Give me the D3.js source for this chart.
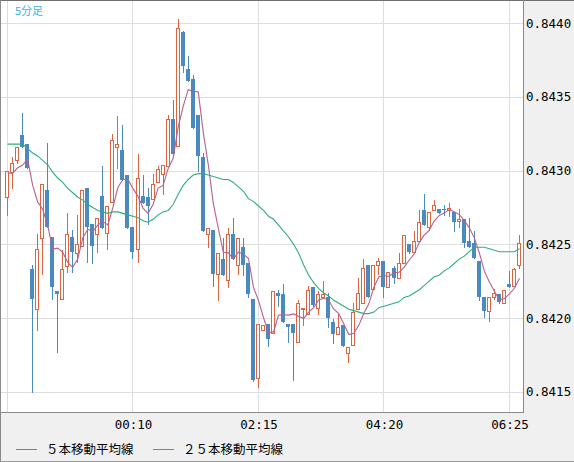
<!DOCTYPE html>
<html>
<head>
<meta charset="utf-8">
<script src="https://cdn.jsdelivr.net/npm/d3@7"></script>
<style>
  body { margin: 0; background: #f0f0f0; }
  svg { display: block; }
</style>
</head>
<body>
<div id="chart"></div>
<script>
// Canvas and plot box (the white area with the candles)
const WIDTH = 574,
      HEIGHT = 462;
const plot = { left: 1, top: 1, right: 523, bottom: 412 };

// 5 minute bars, first bar at 22:05
const startTime = "22:05";
const barMinutes = 5;
const tickLabels = ["00:10", "02:15", "04:20", "06:25"];
const priceTicks = [0.8415, 0.8420, 0.8425, 0.8430, 0.8435, 0.8440];

const open = [
  0.84282, 0.84299, 0.84307, 0.84324, 0.84318, 0.84233, 0.84206, 0.84254, 0.84287, 0.84255,
  0.84218, 0.84213, 0.84235, 0.84255, 0.84244, 0.84249, 0.84288, 0.84264, 0.84257, 0.84283,
  0.84258, 0.84279, 0.84316, 0.84314, 0.84297, 0.84262, 0.84247, 0.84283, 0.84282, 0.84281,
  0.84292, 0.84298, 0.84303, 0.84335, 0.84317, 0.84394, 0.84369, 0.84362, 0.84338, 0.84309,
  0.84257, 0.84260, 0.84230, 0.84240, 0.84226, 0.84257, 0.84236, 0.84248, 0.84237, 0.84213,
  0.84159, 0.84192, 0.84196, 0.84190, 0.84217, 0.84216, 0.84196, 0.84196, 0.84184, 0.84206,
  0.84203, 0.84221, 0.84207, 0.84214, 0.84214, 0.84197, 0.84189, 0.84195, 0.84176, 0.84182,
  0.84206, 0.84210, 0.84236, 0.84220, 0.84236, 0.84239, 0.84221, 0.84234, 0.84227, 0.84237,
  0.84250, 0.84245, 0.84252, 0.84273, 0.84262, 0.84273, 0.84274, 0.84274, 0.84273, 0.84272,
  0.84266, 0.84267, 0.84252, 0.84251, 0.84239, 0.84214, 0.84205, 0.84214, 0.84216, 0.84210,
  0.84223, 0.84222, 0.84236
];
const high = [
  0.84300, 0.84309, 0.84316, 0.84339, 0.84318, 0.84236, 0.84257, 0.84291, 0.84319, 0.84255,
  0.84218, 0.84246, 0.84271, 0.84260, 0.84270, 0.84287, 0.84288, 0.84264, 0.84268, 0.84303,
  0.84276, 0.84325, 0.84337, 0.84331, 0.84297, 0.84262, 0.84311, 0.84297, 0.84288, 0.84298,
  0.84303, 0.84304, 0.84338, 0.84348, 0.84403, 0.84395, 0.84378, 0.84365, 0.84338, 0.84312,
  0.84261, 0.84260, 0.84244, 0.84254, 0.84261, 0.84268, 0.84254, 0.84254, 0.84237, 0.84213,
  0.84196, 0.84195, 0.84196, 0.84218, 0.84219, 0.84223, 0.84196, 0.84196, 0.84212, 0.84207,
  0.84222, 0.84221, 0.84218, 0.84225, 0.84217, 0.84199, 0.84203, 0.84195, 0.84180, 0.84210,
  0.84227, 0.84240, 0.84236, 0.84236, 0.84241, 0.84239, 0.84231, 0.84235, 0.84244, 0.84256,
  0.84250, 0.84259, 0.84273, 0.84284, 0.84272, 0.84280, 0.84274, 0.84277, 0.84278, 0.84272,
  0.84274, 0.84267, 0.84268, 0.84259, 0.84239, 0.84214, 0.84214, 0.84220, 0.84216, 0.84219,
  0.84232, 0.84234, 0.84256
];
const low = [
  0.84270, 0.84288, 0.84305, 0.84316, 0.84302, 0.84150, 0.84192, 0.84230, 0.84262, 0.84213,
  0.84177, 0.84213, 0.84231, 0.84231, 0.84238, 0.84249, 0.84238, 0.84237, 0.84245, 0.84261,
  0.84247, 0.84279, 0.84302, 0.84294, 0.84261, 0.84241, 0.84238, 0.84278, 0.84264, 0.84281,
  0.84292, 0.84284, 0.84303, 0.84311, 0.84317, 0.84367, 0.84361, 0.84329, 0.84300, 0.84259,
  0.84248, 0.84222, 0.84212, 0.84229, 0.84221, 0.84240, 0.84230, 0.84229, 0.84214, 0.84157,
  0.84153, 0.84192, 0.84181, 0.84190, 0.84208, 0.84197, 0.84184, 0.84158, 0.84184, 0.84195,
  0.84203, 0.84208, 0.84203, 0.84214, 0.84194, 0.84183, 0.84189, 0.84181, 0.84170, 0.84182,
  0.84206, 0.84210, 0.84214, 0.84220, 0.84230, 0.84214, 0.84221, 0.84224, 0.84227, 0.84237,
  0.84244, 0.84245, 0.84252, 0.84263, 0.84260, 0.84273, 0.84271, 0.84270, 0.84269, 0.84259,
  0.84262, 0.84248, 0.84248, 0.84241, 0.84212, 0.84201, 0.84198, 0.84213, 0.84210, 0.84210,
  0.84221, 0.84222, 0.84234
];
const close = [
  0.84300, 0.84305, 0.84316, 0.84316, 0.84302, 0.84213, 0.84247, 0.84291, 0.84262, 0.84221,
  0.84216, 0.84233, 0.84257, 0.84245, 0.84250, 0.84287, 0.84262, 0.84249, 0.84268, 0.84261,
  0.84276, 0.84321, 0.84318, 0.84294, 0.84261, 0.84245, 0.84295, 0.84278, 0.84276, 0.84291,
  0.84301, 0.84304, 0.84335, 0.84311, 0.84397, 0.84371, 0.84361, 0.84329, 0.84310, 0.84259,
  0.84261, 0.84230, 0.84244, 0.84229, 0.84257, 0.84240, 0.84254, 0.84236, 0.84216, 0.84158,
  0.84196, 0.84195, 0.84186, 0.84218, 0.84215, 0.84197, 0.84194, 0.84190, 0.84210, 0.84207,
  0.84219, 0.84209, 0.84216, 0.84216, 0.84200, 0.84189, 0.84194, 0.84181, 0.84180, 0.84204,
  0.84217, 0.84234, 0.84214, 0.84236, 0.84239, 0.84221, 0.84231, 0.84227, 0.84237, 0.84256,
  0.84245, 0.84252, 0.84265, 0.84263, 0.84272, 0.84277, 0.84271, 0.84273, 0.84275, 0.84265,
  0.84267, 0.84251, 0.84248, 0.84241, 0.84214, 0.84205, 0.84214, 0.84217, 0.84211, 0.84219,
  0.84221, 0.84233, 0.84251
];

// closes of the 4 bars before the window (read back from where the 5 bar MA starts)
const leadCloses = [0.84305, 0.84298, 0.84306, 0.84282];

// 25 bar moving average
const ma25 = [
  0.84318, 0.84318, 0.84318, 0.84318, 0.84315, 0.84312, 0.84310, 0.84307, 0.84304, 0.84299,
  0.84295, 0.84292, 0.84288, 0.84285, 0.84282, 0.84280, 0.84277, 0.84275, 0.84273, 0.84272,
  0.84271, 0.84272, 0.84272, 0.84271, 0.84270, 0.84269, 0.84268, 0.84266, 0.84265, 0.84267,
  0.84270, 0.84272, 0.84273, 0.84277, 0.84284, 0.84290, 0.84294, 0.84297, 0.84298, 0.84298,
  0.84297, 0.84296, 0.84295, 0.84294, 0.84294, 0.84292, 0.84289, 0.84286, 0.84281, 0.84279,
  0.84276, 0.84273, 0.84269, 0.84267, 0.84263, 0.84259, 0.84255, 0.84250, 0.84244, 0.84236,
  0.84229, 0.84224, 0.84220, 0.84217, 0.84215, 0.84212, 0.84210, 0.84208, 0.84206, 0.84205,
  0.84204, 0.84203, 0.84203, 0.84204, 0.84207, 0.84208, 0.84209, 0.84210, 0.84211, 0.84214,
  0.84215, 0.84217, 0.84219, 0.84222, 0.84225, 0.84228, 0.84229, 0.84232, 0.84234, 0.84237,
  0.84240, 0.84242, 0.84245, 0.84248, 0.84248, 0.84248, 0.84247, 0.84246, 0.84245, 0.84245,
  0.84245, 0.84245, 0.84247
];

const UP = "#dd6440",
      DOWN = "#4a8ac0",
      MA5_COLOR = "#b4618f",
      MA25_COLOR = "#2fae78",
      GRID = "#dedede";
const MONO = "'DejaVu Sans Mono', monospace",
      JP = "'Noto Sans CJK JP', sans-serif";

// Bar times
const fmt = d3.utcFormat("%H:%M");
const t0 = d3.utcParse("%H:%M")(startTime);
const times = close.map((_, i) => d3.utcMinute.offset(t0, barMinutes * i));
const gridTimes = times.filter((t, i) => i % 25 === 0);
const labelTimes = times.filter(t => tickLabels.includes(fmt(t)));

// 5 bar simple moving average from the closes
const allCloses = leadCloses.concat(close);
const ma5 = close.map((_, i) => d3.mean(allCloses.slice(i, i + 5)));

let x = d3.scaleUtc()
    .domain([times[0], times[times.length - 1]])
    .range([7.5, 519.5]);

let y = d3.scaleLinear()
    .domain([0.8415, 0.8440])
    .range([391.7, 23.3]);

let svg = d3
    .select("#chart")
    .append("svg")
    .attr("width", WIDTH)
    .attr("height", HEIGHT);

svg.append("rect")
    .attr("width", WIDTH)
    .attr("height", HEIGHT)
    .attr("fill", "#f0f0f0");

svg.append("rect")
    .attr("x", plot.left)
    .attr("y", plot.top)
    .attr("width", plot.right - plot.left)
    .attr("height", plot.bottom - plot.top)
    .attr("fill", "#fff");

// Grid
let grid = svg.append("g")
    .attr("stroke", GRID)
    .attr("stroke-width", 1)
    .attr("shape-rendering", "crispEdges");

grid.selectAll("line.h")
    .data(priceTicks)
    .enter()
    .append("line")
    .attr("class", "h")
    .attr("x1", plot.left)
    .attr("x2", plot.right)
    .attr("y1", d => Math.round(y(d)) + 0.5)
    .attr("y2", d => Math.round(y(d)) + 0.5);

grid.selectAll("line.v")
    .data(gridTimes)
    .enter()
    .append("line")
    .attr("class", "v")
    .attr("x1", d => Math.floor(x(d)) + 0.5)
    .attr("x2", d => Math.floor(x(d)) + 0.5)
    .attr("y1", plot.top)
    .attr("y2", plot.bottom);

// Candles
const bars = close.map((c, i) => ({ t: times[i], o: open[i], h: high[i], l: low[i], c: c }));

let candles = svg.append("g")
    .attr("shape-rendering", "crispEdges")
    .selectAll("g")
    .data(bars)
    .enter()
    .append("g");

candles.append("line")
    .attr("x1", d => Math.floor(x(d.t)) + 0.5)
    .attr("x2", d => Math.floor(x(d.t)) + 0.5)
    .attr("y1", d => Math.round(y(d.h)))
    .attr("y2", d => Math.round(y(d.l)) + 1)
    .attr("stroke", d => d.c >= d.o ? UP : DOWN)
    .attr("stroke-width", 1);

// bullish: hollow, bearish: filled
candles.filter(d => d.c >= d.o)
    .append("rect")
    .attr("x", d => Math.floor(x(d.t)) - 1.5)
    .attr("width", 3)
    .attr("y", d => Math.round(y(d.c)) + 0.5)
    .attr("height", d => Math.max(1, Math.round(y(d.o)) - Math.round(y(d.c))))
    .attr("fill", "#fff")
    .attr("stroke", UP)
    .attr("stroke-width", 1);

candles.filter(d => d.c < d.o)
    .append("rect")
    .attr("x", d => Math.floor(x(d.t)) - 2)
    .attr("width", 4)
    .attr("y", d => Math.round(y(d.o)))
    .attr("height", d => Math.max(1, Math.round(y(d.c)) - Math.round(y(d.o))))
    .attr("fill", DOWN);

// Moving averages
const maLine = d3.line()
    .x((d, i) => x(times[i]))
    .y(d => y(d));

svg.append("path")
    .attr("d", maLine(ma25))
    .attr("fill", "none")
    .attr("stroke", MA25_COLOR)
    .attr("stroke-width", 1.1);

svg.append("path")
    .attr("d", maLine(ma5))
    .attr("fill", "none")
    .attr("stroke", MA5_COLOR)
    .attr("stroke-width", 1.1);

// Borders
let borders = svg.append("g").attr("shape-rendering", "crispEdges");
borders.append("line")
    .attr("x1", 0).attr("x2", WIDTH).attr("y1", 0.5).attr("y2", 0.5)
    .attr("stroke", "#707070");
borders.append("line")
    .attr("x1", 0.5).attr("x2", 0.5).attr("y1", 0).attr("y2", HEIGHT)
    .attr("stroke", "#8a8a8a");
borders.append("line")
    .attr("x1", plot.right + 0.5).attr("x2", plot.right + 0.5).attr("y1", 0).attr("y2", plot.bottom + 1)
    .attr("stroke", "#8a8a8a");
borders.append("line")
    .attr("x1", 0).attr("x2", plot.right + 1).attr("y1", plot.bottom + 0.5).attr("y2", plot.bottom + 0.5)
    .attr("stroke", "#8a8a8a");
borders.append("line")
    .attr("x1", 0).attr("x2", WIDTH).attr("y1", HEIGHT - 0.5).attr("y2", HEIGHT - 0.5)
    .attr("stroke", "#9a9a9a");

// Price axis on the right
let yAxis = svg.append("g")
    .attr("transform", `translate(${plot.right},0)`)
    .call(d3.axisRight(y)
        .tickValues(priceTicks)
        .tickSize(0)
        .tickPadding(3)
        .tickFormat(d3.format(".4f")));
yAxis.select(".domain").remove();
yAxis.selectAll("text")
    .attr("font-family", MONO)
    .attr("font-size", 12.5)
    .attr("fill", "#000");

// Time axis
let xAxis = svg.append("g")
    .attr("transform", `translate(0,${plot.bottom})`)
    .call(d3.axisBottom(x)
        .tickValues(labelTimes)
        .tickSize(0)
        .tickPadding(8)
        .tickFormat(fmt));
xAxis.select(".domain").remove();
xAxis.selectAll("text")
    .attr("font-family", MONO)
    .attr("font-size", 12.5)
    .attr("fill", "#000");

// Timeframe label
svg.append("text")
    .attr("x", 15)
    .attr("y", 15)
    .attr("font-family", JP)
    .attr("font-size", 11)
    .attr("fill", "#3ab2ea")
    .text("5分足");

// Legend
const legendItems = [
    { label: "５本移動平均線", color: MA5_COLOR, x: 16 },
    { label: "２５本移動平均線", color: MA25_COLOR, x: 153 }
];
let legend = svg.append("g")
    .selectAll("g")
    .data(legendItems)
    .enter()
    .append("g")
    .attr("transform", d => `translate(${d.x},449)`);

legend.append("line")
    .attr("x1", 0).attr("x2", 21)
    .attr("y1", 0.5).attr("y2", 0.5)
    .attr("stroke", d => d.color)
    .attr("shape-rendering", "crispEdges");

legend.append("text")
    .attr("x", 30)
    .attr("y", 4.5)
    .attr("font-family", JP)
    .attr("font-size", 12.5)
    .attr("fill", "#000")
    .text(d => d.label);
</script>
</body>
</html>
